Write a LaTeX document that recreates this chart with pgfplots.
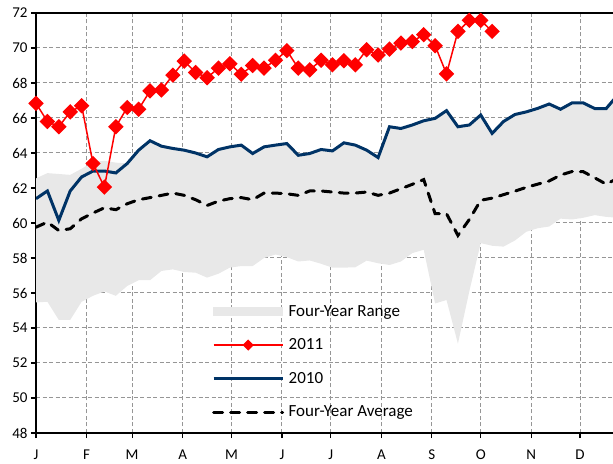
\documentclass[border=0pt]{standalone}
\usepackage{pgfplots}
\pgfplotsset{compat=1.18}
\usepackage{pgfplotstable}
\usepgfplotslibrary{fillbetween}
\usepackage{fontspec}
\setmainfont{Carlito}
\definecolor{navy}{RGB}{0,51,102}
\definecolor{rangegray}{RGB}{232,232,232}
\definecolor{gridgray}{RGB}{150,150,150}

\pgfplotstableread{
w v
0 66.84
1 65.8
2 65.5
3 66.35
4 66.7
5 63.4
6 62.05
7 65.5
8 66.6
9 66.5
10 67.55
11 67.6
12 68.45
13 69.25
14 68.6
15 68.3
16 68.85
17 69.1
18 68.5
19 69.0
20 68.85
21 69.3
22 69.85
23 68.85
24 68.75
25 69.3
26 69.04
27 69.27
28 69.04
29 69.9
30 69.6
31 69.94
32 70.28
33 70.37
34 70.76
35 70.13
36 68.52
37 70.95
38 71.58
39 71.58
40 70.95
}\yrA

\pgfplotstableread{
w v
0 61.39
1 61.83
2 60.15
3 61.83
4 62.63
5 62.97
6 62.97
7 62.86
8 63.4
9 64.16
10 64.7
11 64.39
12 64.26
13 64.16
14 64.0
15 63.78
16 64.2
17 64.35
18 64.45
19 63.97
20 64.35
21 64.45
22 64.54
23 63.87
24 63.97
25 64.2
26 64.12
27 64.58
28 64.45
29 64.16
30 63.74
31 65.5
32 65.4
33 65.6
34 65.84
35 65.98
36 66.42
37 65.5
38 65.6
39 66.17
40 65.12
41 65.8
42 66.2
43 66.35
44 66.55
45 66.8
46 66.5
47 66.86
48 66.86
49 66.54
50 66.54
51 67.3
}\yrB

\pgfplotstableread{
w v
0 59.76
1 60.05
2 59.57
3 59.67
4 60.24
5 60.57
6 60.87
7 60.76
8 61.1
9 61.33
10 61.45
11 61.58
12 61.71
13 61.58
14 61.33
15 61.0
16 61.25
17 61.39
18 61.45
19 61.33
20 61.71
21 61.71
22 61.67
23 61.58
24 61.83
25 61.83
26 61.77
27 61.71
28 61.71
29 61.77
30 61.58
31 61.71
32 61.96
33 62.21
34 62.48
35 60.53
36 60.53
37 59.29
38 60.2
39 61.3
40 61.42
41 61.62
42 61.82
43 62.04
44 62.22
45 62.4
46 62.74
47 62.94
48 62.93
49 62.58
50 62.22
51 62.55
}\avg

\pgfplotstableread{
w v
0 62.55
1 62.85
2 62.8
3 62.75
4 63.1
5 63.5
6 63.55
7 63.45
8 63.4
9 64.16
10 64.7
11 64.39
12 64.26
13 64.16
14 64.0
15 63.78
16 64.2
17 64.35
18 64.45
19 63.97
20 64.35
21 64.45
22 64.54
23 63.87
24 63.97
25 64.2
26 64.12
27 64.58
28 64.45
29 64.16
30 63.74
31 65.5
32 65.4
33 65.6
34 65.84
35 65.98
36 66.42
37 65.5
38 65.6
39 66.17
40 65.12
41 65.8
42 66.2
43 66.35
44 66.55
45 66.8
46 66.5
47 66.86
48 66.86
49 66.54
50 66.54
51 67.3
}\rangeup

\pgfplotstableread{
w v
0 55.46
1 55.5
2 54.46
3 54.46
4 55.5
5 55.84
6 56.09
7 55.84
8 56.4
9 56.73
10 56.73
11 57.26
12 57.35
13 57.2
14 57.16
15 56.88
16 57.1
17 57.45
18 57.54
19 57.54
20 58.0
21 58.2
22 58.05
23 57.8
24 57.86
25 57.67
26 57.45
27 57.45
28 57.47
29 57.85
30 57.7
31 57.6
32 57.8
33 58.28
34 58.47
35 55.4
36 55.6
37 53.1
38 56.1
39 58.85
40 58.7
41 58.65
42 59.0
43 59.5
44 59.7
45 59.8
46 60.25
47 60.2
48 60.3
49 60.45
50 60.35
51 60.3
}\rangelo

\begin{document}
\begin{tikzpicture}
\begin{axis}[
  name=ax,
  scale only axis, width=577bp, height=420bp,
  xmin=0, xmax=50.6, ymin=48, ymax=72,
  xtick={0,4.4286,8.4286,12.857,17.143,21.571,25.857,30.286,34.714,39,43.429,47.714},
  xticklabels={J,F,M,A,M,J,J,A,S,O,N,D},
  ytick={48,50,...,72},
  grid=major,
  major grid style={gridgray, line width=1bp, dash pattern=on 4bp off 2.5bp},
  axis x line*=bottom, axis y line*=left,
  axis line style={black, line width=2.5bp},
  tick align=outside, major tick length=5bp,
  tick style={black, line width=1.2bp},
  ticklabel style={font=\fontsize{15bp}{18bp}\selectfont},
  /pgf/number format/assume math mode=true,
  xticklabel style={yshift=-8bp},
  legend cell align=left,
  legend style={draw=none, fill=none, at={(axis cs:15.43,55.56)}, anchor=north west,
    font=\fontsize{17bp}{20bp}\selectfont, row sep=12bp, inner sep=0pt,
    nodes={inner sep=4.5bp}},
  legend image code/.code={\draw[mark repeat=2,mark phase=2,#1] plot coordinates {(0bp,0bp) (34.5bp,0bp) (69bp,0bp)};},
]
\addplot[draw=none, name path=up, forget plot] table[x=w,y=v]{\rangeup};
\addplot[draw=none, name path=lo, forget plot] table[x=w,y=v]{\rangelo};
\addplot[fill=rangegray, draw=none, forget plot] fill between[of=up and lo];
\addplot[black, line width=3bp, dash pattern=on 9bp off 8bp, line cap=round, forget plot] table[x=w,y=v]{\avg};
\addplot[navy, line width=3bp, forget plot] table[x=w,y=v]{\yrB};
\addplot[red, line width=1.5bp, mark=square*, mark size=4.7bp, mark options={rotate=45, fill=red, draw=red, solid}, forget plot] table[x=w,y=v]{\yrA};

\addlegendimage{legend image code/.code={\fill[rangegray] (0bp,-4bp) rectangle (69bp,4bp);}}
\addlegendentry{Four-Year Range}
\addlegendimage{red, line width=1.5bp, mark=square*, mark size=3.2bp, mark options={rotate=45, fill=red, draw=red}}
\addlegendentry{2011}
\addlegendimage{navy, line width=3bp}
\addlegendentry{2010}
\addlegendimage{black, line width=3bp, dash pattern=on 9bp off 8bp, line cap=round}
\addlegendentry{Four-Year Average}

\draw[black, line width=1.2bp] (rel axis cs:0,1) -- (rel axis cs:1,1);
\end{axis}
\pgfresetboundingbox
\path ([xshift=-36bp, yshift=-31bp]ax.south west) rectangle ([yshift=13bp]ax.north east);
\end{tikzpicture}
\end{document}
